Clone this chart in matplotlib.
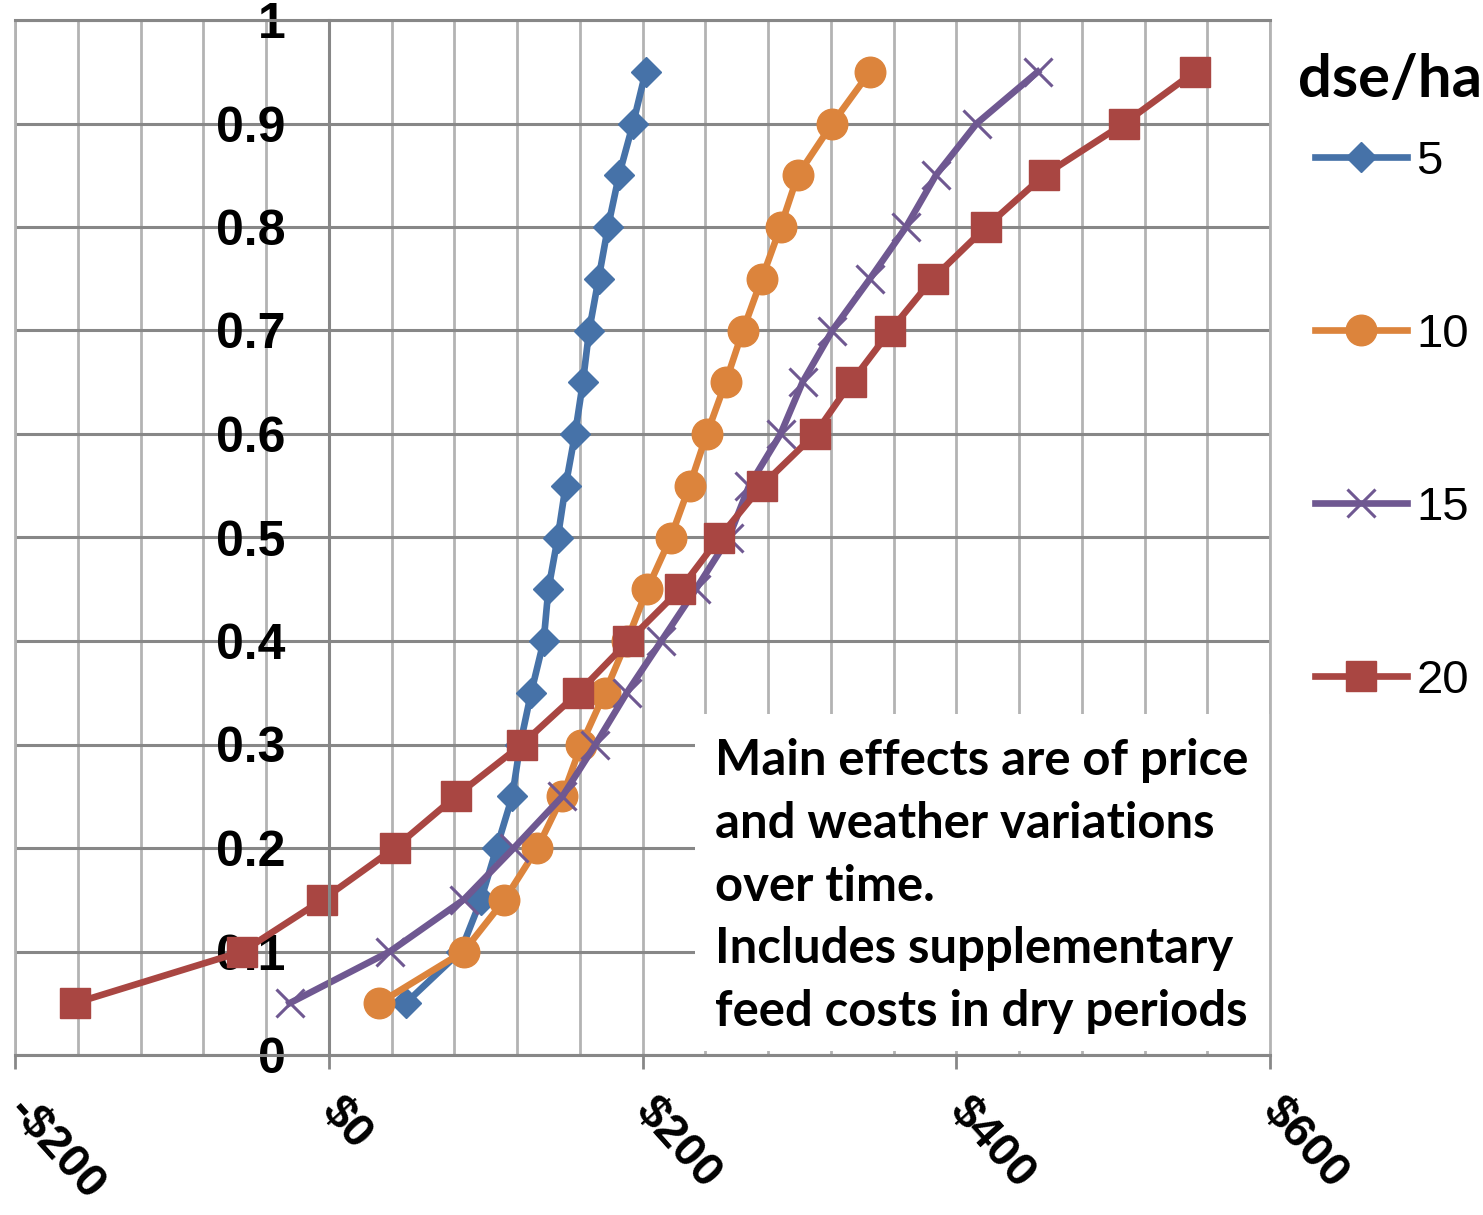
import matplotlib.pyplot as plt
from matplotlib.ticker import MultipleLocator, FixedLocator, FixedFormatter, FuncFormatter
from matplotlib.patches import Rectangle

# ---------------- Data ----------------
cum_prob = [0.05, 0.10, 0.15, 0.20, 0.25, 0.30, 0.35, 0.40, 0.45, 0.50,
            0.55, 0.60, 0.65, 0.70, 0.75, 0.80, 0.85, 0.90, 0.95]

margin_5 = [49, 84, 97, 107, 117, 122, 129, 137, 140, 146,
            151, 157, 162, 166, 172, 178, 185, 194, 202]
margin_10 = [32, 86, 112, 133, 149, 161, 176, 190, 203, 218,
             230, 241, 253, 264, 276, 288, 299, 321, 345]
margin_15 = [-25, 39, 86, 118, 149, 170, 190, 212, 234, 255,
             268, 288, 302, 321, 345, 368, 387, 413, 452]
margin_20 = [-162, -55, -4, 42, 81, 123, 159, 191, 224, 249,
             276, 310, 333, 358, 385, 419, 456, 507, 552]

series_labels = ["5", "10", "15", "20"]
legend_title = "dse/ha"
x_ticks = [-200, 0, 200, 400, 600]
x_tick_labels = ["-$200", "$0", "$200", "$400", "$600"]

note = ("Main effects are of price\n"
        "and weather variations\n"
        "over time.\n"
        "Includes supplementary\n"
        "feed costs in dry periods")

W, H = 1483, 1215
DARK = "#878787"
LIGHT = "#b3b3b3"

# ---------------- Figure ----------------
fig = plt.figure(figsize=(W / 100, H / 100), dpi=100)
ax = fig.add_axes([15 / W, 1 - 1055 / H, 1255 / W, 1035 / H])
ax.set_xlim(-200, 600)
ax.set_ylim(0, 1)

# grid
ax.set_axisbelow(True)
ax.xaxis.set_minor_locator(MultipleLocator(40))
ax.grid(axis="x", which="both", color=LIGHT, lw=2)
ax.grid(axis="y", which="major", color=DARK, lw=2.2)
ax.tick_params(which="minor", length=0)

# spines / frame
ax.spines["left"].set_position(("data", 0))
for s in ["left", "bottom", "top"]:
    ax.spines[s].set_color(DARK)
    ax.spines[s].set_linewidth(2.2)
ax.spines["right"].set_color(LIGHT)
ax.spines["right"].set_linewidth(2)
ax.axvline(-200, color=LIGHT, lw=2, clip_on=False, zorder=0.6)

# lines
styles = [
    dict(color="#4672a8", marker="D", ms=15),
    dict(color="#dc843c", marker="o", ms=22),
    dict(color="#6f5891", marker="x", ms=20, mew=2.2),
    dict(color="#a94642", marker="s", ms=22),
]
handles = []
for vals, st, lab in zip([margin_5, margin_10, margin_15, margin_20], styles, series_labels):
    ln, = ax.plot(vals, cum_prob, lw=4.8, label=lab, **st)
    handles.append(ln)

# text box
ax.add_patch(Rectangle((0.5418, 0.004), 0.4582, 0.3256, transform=ax.transAxes,
                       facecolor="white", edgecolor="none", zorder=1.5))
fig.text(715 / W, 1 - 738 / H, note, ha="left", va="top", fontsize=35.3,
         fontfamily="Lato", fontweight="bold", linespacing=1.48)

# ticks
ax.yaxis.set_major_locator(MultipleLocator(0.1))
ax.yaxis.set_major_formatter(FuncFormatter(lambda v, p: f"{v:g}"))
ax.tick_params(axis="y", direction="out", length=10, width=2, color=DARK, pad=21)
for t in ax.get_yticklabels():
    t.set_fontfamily("Liberation Sans")
    t.set_fontweight("bold")
    t.set_fontsize(36)

ax.xaxis.set_major_locator(FixedLocator(x_ticks))
ax.xaxis.set_major_formatter(FixedFormatter(x_tick_labels))
ax.tick_params(axis="x", direction="out", length=10, width=2, color=DARK, pad=25)
for t in ax.get_xticklabels():
    t.set_fontfamily("Liberation Sans")
    t.set_fontweight("bold")
    t.set_fontsize(34)
    t.set_rotation(-48)
    t.set_ha("left")
    t.set_va("center")
    t.set_rotation_mode("anchor")

# legend
fig.text(1390 / W, 1 - 97 / H, legend_title, ha="center", va="baseline",
         fontsize=43, fontfamily="Lato", fontweight="bold")
leg = fig.legend(handles, series_labels, loc="upper left",
                 bbox_to_anchor=(1315 / W, 1 - 140 / H), frameon=False,
                 prop={"family": "Liberation Sans", "size": 34},
                 handlelength=1.95, handletextpad=0.2, labelspacing=2.73,
                 borderpad=0, borderaxespad=0)

fig.savefig("out.png", dpi=100)
